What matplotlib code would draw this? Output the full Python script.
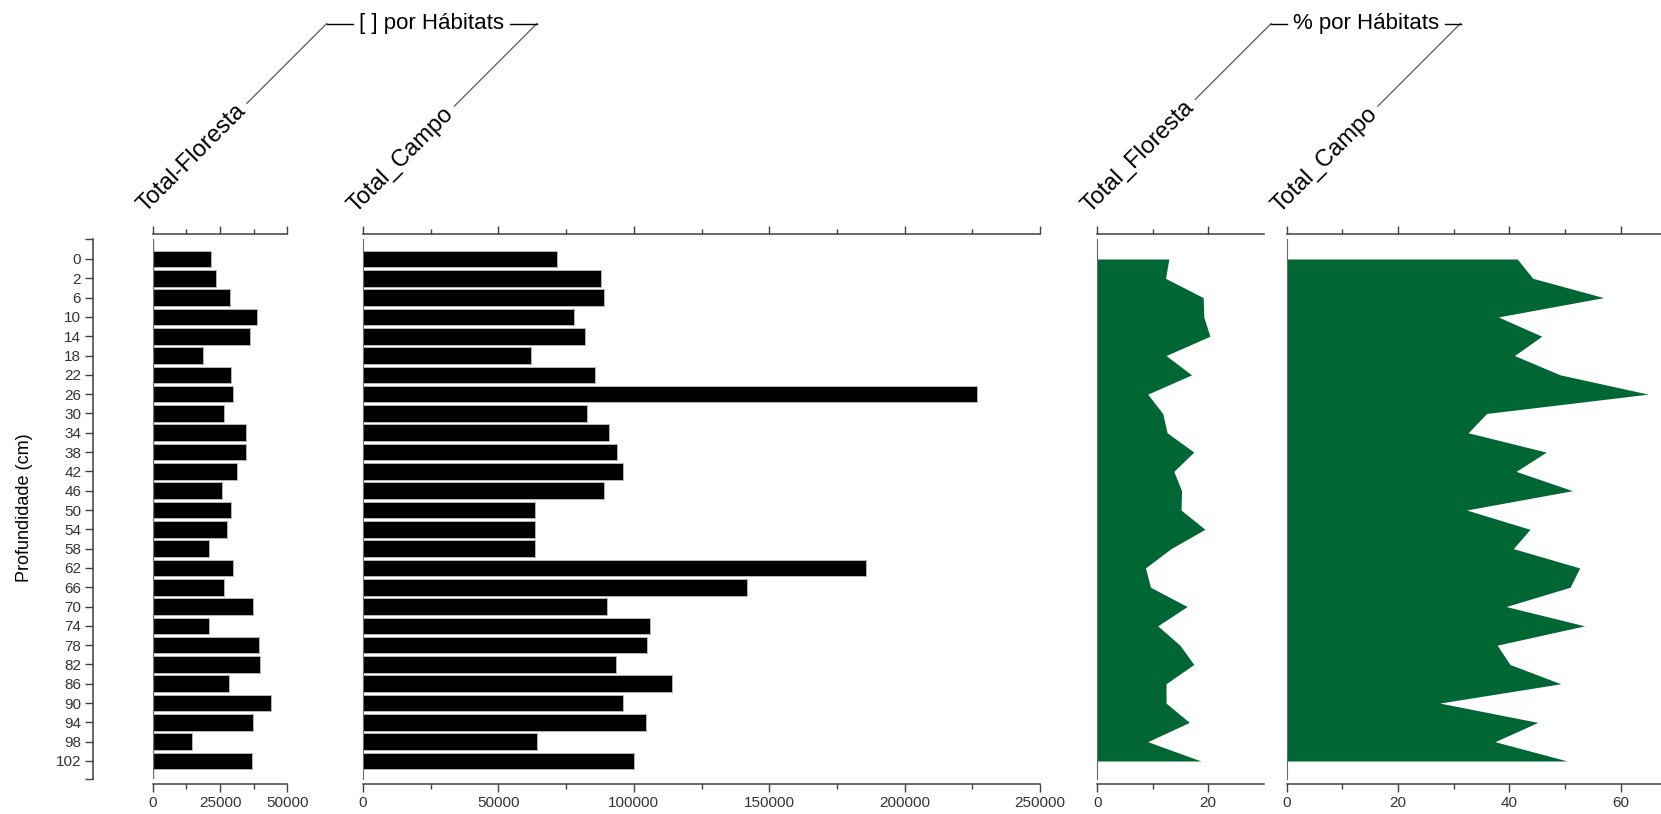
import numpy as np
import matplotlib
matplotlib.use('Agg')
import matplotlib.pyplot as plt
from matplotlib.lines import Line2D

plt.rcParams['font.family'] = ['Liberation Sans', 'DejaVu Sans']

# depth of each sample (cm)
depths = [0, 2, 6, 10, 14, 18, 22, 26, 30, 34, 38, 42, 46, 50,
          54, 58, 62, 66, 70, 74, 78, 82, 86, 90, 94, 98, 102]

# concentrations per habitat
floresta_conc = [21600, 23500, 28800, 38800, 36100, 18800, 29200, 29900, 26600,
                 34600, 34600, 31500, 25700, 29200, 27700, 20800, 29900, 26600,
                 37200, 20800, 39600, 40000, 28500, 43800, 37200, 14700, 37000]
campo_conc = [71700, 88000, 89000, 77800, 82000, 62200, 85800, 226600, 82900,
              90900, 93900, 96100, 89000, 63700, 63700, 63700, 185700, 141700,
              90000, 105900, 104700, 93400, 114200, 96100, 104400, 64100, 100200]

# percentages per habitat
floresta_pct = [12.9, 12.3, 19.1, 19.2, 20.3, 12.4, 17.0, 9.1, 11.8, 12.6, 17.4,
                13.8, 15.2, 15.1, 19.4, 13.3, 8.7, 9.6, 16.2, 10.9, 14.9, 17.4,
                12.4, 12.4, 16.6, 9.1, 18.7]
campo_pct = [41.4, 44.2, 56.9, 38.0, 45.8, 40.9, 49.1, 64.9, 35.9, 32.6, 46.6,
             41.2, 51.3, 32.3, 43.7, 40.7, 52.6, 50.9, 39.4, 53.5, 37.8, 40.1,
             49.2, 27.5, 45.1, 37.4, 50.4]

W, H = 1661, 814
DPI = 100
fig = plt.figure(figsize=(W / DPI, H / DPI), dpi=DPI)
PT = 72 / DPI  # points per pixel

rows = np.arange(len(depths))
row_px = (761 - 259) / (len(depths) - 1)
y_top = (239 - 259) / row_px
y_bot = (779 - 259) / row_px

SPINE = '#404040'
GREEN = '#006633'
TICK_FS = 11


def add_panel(left, right, xmax, majors, minors):
    ax = fig.add_axes([left / W, 1 - 779 / H, (right - left) / W, (779 - 239) / H])
    ax.set_xlim(0, xmax)
    ax.set_ylim(y_bot, y_top)
    ax.spines['right'].set_visible(False)
    for side in ('top', 'bottom'):
        ax.spines[side].set_position(('outward', 5 * PT))
        ax.spines[side].set_color(SPINE)
        ax.spines[side].set_linewidth(1.1)
    ax.spines['left'].set_color('#6a6a6a')
    ax.set_xticks(majors)
    ax.set_xticks(minors, minor=True)
    ax.ticklabel_format(axis='x', style='plain', useOffset=False)
    ax.tick_params(axis='x', which='both', direction='out', top=True, bottom=True,
                   labeltop=False, labelbottom=True, color=SPINE, width=1,
                   labelsize=TICK_FS, labelcolor='#333333', pad=3)
    ax.tick_params(axis='x', which='major', length=8 * PT)
    ax.tick_params(axis='x', which='minor', length=5 * PT)
    ax.tick_params(axis='y', which='both', left=False, labelleft=False)
    return ax


ax1 = add_panel(152.7, 287.3, 50000, [0, 25000, 50000], [12500, 37500])
ax2 = add_panel(363, 1040, 250000, np.arange(0, 250001, 50000),
                np.arange(25000, 250000, 50000))
ax3 = add_panel(1097.2, 1264.3, 30.1, [0, 20], [10])
ax4 = add_panel(1286.5, 1661, 67.2, [0, 20, 40, 60], [10, 30, 50])

bar_kw = dict(height=0.86, color='black', edgecolor='#b5b5b5', linewidth=0.7)
ax1.barh(rows, floresta_conc, **bar_kw)
ax2.barh(rows, campo_conc, **bar_kw)
ax3.fill_betweenx(rows, 0, floresta_pct, color=GREEN, lw=0)
ax4.fill_betweenx(rows, 0, campo_pct, color=GREEN, lw=0)

# depth axis lives on the first panel's left spine, pushed out to the left
ax1.spines['left'].set_position(('outward', 60 * PT))
ax1.spines['left'].set_color(SPINE)
ax1.spines['left'].set_linewidth(1.1)
ax1.axvline(0, color='#6a6a6a', lw=1)
ax1.set_yticks(rows, labels=[str(d) for d in depths])
ax1.set_yticks([y_top, y_bot], minor=True)
ax1.tick_params(axis='y', which='both', left=True, labelleft=True, length=8 * PT,
                width=1, color=SPINE, labelsize=TICK_FS, labelcolor='#333333', pad=2.5)
fig.text(25 / W, 1 - 508 / H, 'Profundidade (cm)', rotation=90,
         ha='center', va='center', fontsize=13)

# rotated column names
labels = []
for ax, name in [(ax1, 'Total-Floresta'), (ax2, 'Total_Campo'),
                 (ax3, 'Total_Floresta'), (ax4, 'Total_Campo')]:
    x, y = ax.transAxes.transform((0, 1))
    x, y = x - 7, y + 26
    t = fig.text(x / W, y / H, name, rotation=45, rotation_mode='anchor',
                 ha='left', va='baseline', fontsize=17)
    labels.append((t, x, y))

fig.canvas.draw()
renderer = fig.canvas.get_renderer()
c = s = np.sqrt(0.5)
title_y = H - 23.5


def leader_top(t, x, y, gap=6, perp=6):
    w, _, _ = renderer.get_text_width_height_descent(t.get_text(), t.get_fontproperties(), ismath=False)
    sx = x + (w + gap) * c - perp * s
    sy = y + (w + gap) * s + perp * c
    tx = sx + (title_y - sy)
    fig.add_artist(Line2D([sx / W, tx / W], [sy / H, title_y / H], color='#5a5a5a',
                          lw=0.9, transform=fig.transFigure))
    return tx


for (la, lb), title in [((labels[0], labels[1]), '[ ] por Hábitats'),
                        ((labels[2], labels[3]), '% por Hábitats')]:
    xl = leader_top(*la)
    xr = leader_top(*lb)
    cx = (xl + xr) / 2
    tt = fig.text(cx / W, title_y / H, title, ha='center', va='center', fontsize=16)
    tw = tt.get_window_extent(renderer).width
    fig.add_artist(Line2D([xl / W, (cx - tw / 2 - 6) / W], [title_y / H] * 2,
                          color='black', lw=1, transform=fig.transFigure))
    fig.add_artist(Line2D([(cx + tw / 2 + 6) / W, xr / W], [title_y / H] * 2,
                          color='black', lw=1, transform=fig.transFigure))

fig.savefig('out.png', dpi=DPI, facecolor='white')
